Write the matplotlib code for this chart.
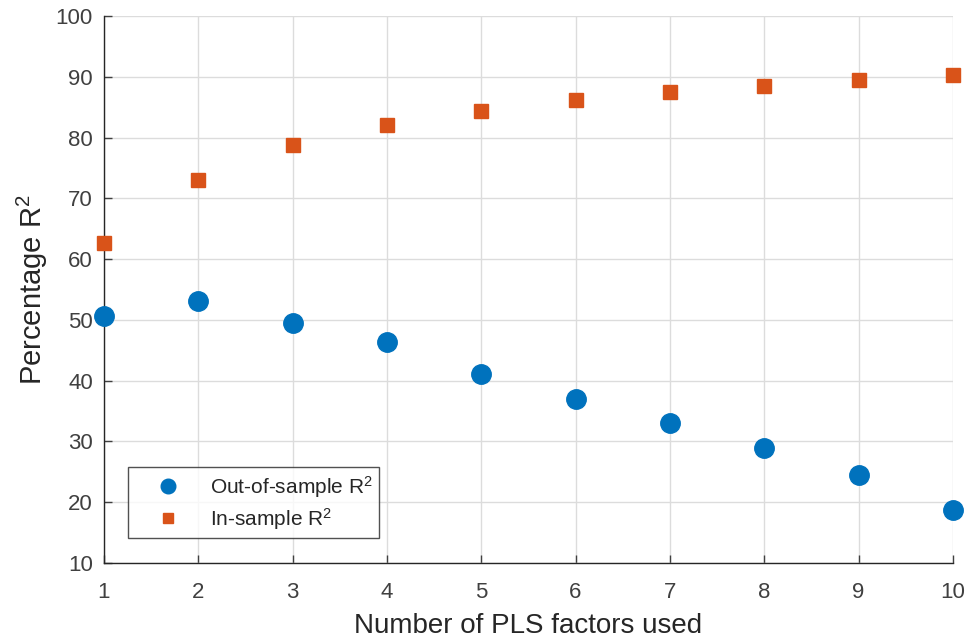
import matplotlib
matplotlib.use("Agg")
import matplotlib.pyplot as plt

plt.rcParams['font.family'] = ['Liberation Sans', 'DejaVu Sans']
plt.rcParams['mathtext.default'] = 'regular'

n_factors = [1, 2, 3, 4, 5, 6, 7, 8, 9, 10]
out_of_sample_r2 = [50.7, 53.1, 49.5, 46.4, 41.1, 37.0, 33.1, 28.9, 24.5, 18.8]
in_sample_r2 = [62.7, 73.0, 78.8, 82.0, 84.3, 86.2, 87.5, 88.5, 89.4, 90.3]

fig = plt.figure(figsize=(9.69, 6.40), dpi=100)
ax = fig.add_axes([0.1073, 0.1203, 0.876, 0.8547])

ax.plot(n_factors, out_of_sample_r2, linestyle='none', marker='o', markersize=14,
        color='#0072BD', label='Out-of-sample R$^2$', clip_on=False, zorder=3)
ax.plot(n_factors, in_sample_r2, linestyle='none', marker='s', markersize=10,
        color='#D95319', label='In-sample R$^2$', clip_on=False, zorder=3)

ax.set_xlim(1, 10)
ax.set_ylim(10, 100)
ax.set_xticks(n_factors)
ax.set_yticks(range(10, 101, 10))
ax.grid(True, color='#dcdcdc', linewidth=1)
ax.set_axisbelow(True)

for side in ('top', 'right'):
    ax.spines[side].set_visible(False)
for side in ('left', 'bottom'):
    ax.spines[side].set_color('#262626')
    ax.spines[side].set_linewidth(1.0)

ax.tick_params(direction='in', length=6, width=1, colors='#404040', labelsize=16)
ax.tick_params(axis='x', pad=14)
ax.tick_params(axis='y', pad=8)
ax.set_xlabel('Number of PLS factors used', fontsize=20, color='#262626', labelpad=7)
ax.set_ylabel('Percentage R$^2$', fontsize=21, color='#262626', labelpad=4)

leg = ax.legend(loc='lower left', bbox_to_anchor=(0.0283, 0.0457), borderaxespad=0,
                fontsize=15, frameon=True, fancybox=False, edgecolor='#262626',
                borderpad=0.3, handletextpad=0.45, handlelength=3.2,
                labelspacing=0.3, markerscale=0.75)
leg.get_frame().set_linewidth(1.0)
for t in leg.get_texts():
    t.set_color('#262626')

fig.savefig('out.png', dpi=100, facecolor='white')
